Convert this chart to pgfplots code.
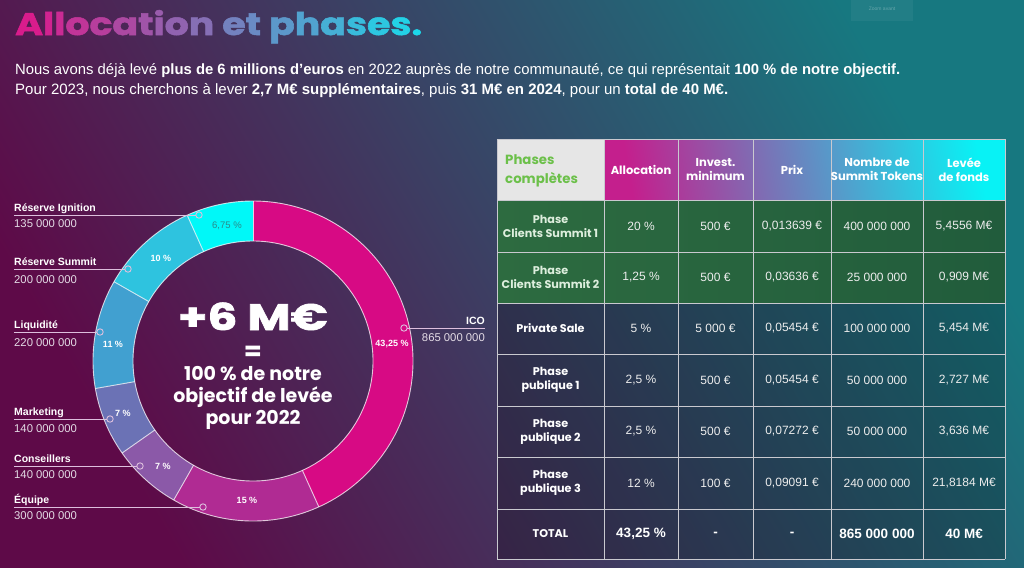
\documentclass[border=0pt]{standalone}
\usepackage{pgfplots}
\pgfplotsset{compat=1.18}
\usepackage{pgfplotstable}
\usepackage{fontspec}
\setmainfont{Liberation Sans}
\newfontfamily\pop{Poppins}
\newfontfamily\popheavy{Poppins}[BoldFeatures={FakeBold=1.6}]
\usetikzlibrary{fadings}

\definecolor{c0}{HTML}{D70A84}
\definecolor{c1}{HTML}{B02B93}
\definecolor{c2}{HTML}{8B59A8}
\definecolor{c3}{HTML}{6B72B5}
\definecolor{c4}{HTML}{41A0D0}
\definecolor{c5}{HTML}{2EC3DF}
\definecolor{c6}{HTML}{00F8F8}
\definecolor{bgT}{HTML}{177880}
\definecolor{bgM}{HTML}{43285A}
\definecolor{bgB}{HTML}{5E0A48}
\definecolor{leader}{HTML}{DDBFDD}
\definecolor{gridc}{HTML}{C9C9CF}
\definecolor{gr1}{HTML}{2D6B40}
\definecolor{gr2}{HTML}{215C3C}
\definecolor{phg}{HTML}{6CC04A}
\definecolor{hdM}{HTML}{C41F8D}
\definecolor{hdP}{HTML}{5C8ECC}
\definecolor{hdC}{HTML}{08F2F5}
\definecolor{tM}{HTML}{D91C8C}
\definecolor{tC}{HTML}{1CD8EA}
\definecolor{valgray}{HTML}{E4DCE6}
\definecolor{cellw}{HTML}{EDEDED}
\definecolor{tealtxt}{HTML}{2A8A8A}
\definecolor{hdgray}{HTML}{E6E6E6}
\definecolor{mint}{HTML}{DDEEDD}

\pgfplotstableread{
value
43.25
15
7
7
11
10
6.75
}\alloc

\tikzset{ringline/.style={draw=white, draw opacity=0.75, line width=0.9pt},
  leadline/.style={draw=leader, line width=1pt},
  nm/.style={anchor=base west, font=\bfseries\fontsize{10.5}{12}\selectfont, text=white, inner sep=0pt},
  vl/.style={anchor=base west, font=\fontsize{11.3}{12}\selectfont, text=valgray, inner sep=0pt},
  pc/.style={font=\bfseries\fontsize{9}{10}\selectfont, text=white, inner sep=0pt},
  hdr/.style={align=center, font=\pop\bfseries\fontsize{11.5}{13.5}\selectfont, text=white, inner sep=0pt},
  rl/.style={align=center, font=\pop\bfseries\fontsize{11.2}{14}\selectfont, text=white, inner sep=0pt},
  cv/.style={font=\fontsize{12}{14}\selectfont, text=cellw, inner sep=0pt},
  tv/.style={font=\bfseries\fontsize{13.5}{14}\selectfont, text=white, inner sep=0pt}}

\newcommand\slice[3]{%
  \pgfmathsetmacro\sa{90-3.6*(#1)}%
  \pgfmathsetmacro\sb{90-3.6*((#1)+(#2))}%
  \edef\temp{\noexpand\fill[#3] (axis cs:253,361) ++(\sa:160pt) arc[start angle=\sa, end angle=\sb, radius=160pt] -- ++(\sb:-40pt) arc[start angle=\sb, end angle=\sa, radius=120pt] -- cycle;}%
  \temp
}
\newcommand\sep[1]{%
  \pgfmathsetmacro\sb{90-3.6*(#1)}%
  \edef\temp{\noexpand\draw[ringline] (axis cs:253,361) ++(\sb:120pt) -- ++(\sb:40pt);}%
  \temp
}
\newcommand\tl[2]{\textcolor{tC!#1!tM}{#2}}

\begin{document}
\begin{tikzpicture}
\useasboundingbox (0pt,0pt) rectangle (1024pt,-567pt);
\shade[top color=bgT, middle color=bgM, bottom color=bgB, shading angle=-60] (0pt,0pt) rectangle (1024pt,-567pt);
\begin{axis}[at={(0pt,0pt)}, anchor=north west, scale only axis, width=1024pt, height=567pt,
  xmin=0, xmax=1024, ymin=0, ymax=567, y dir=reverse, hide axis, clip=false]

% zoom button
\fill[white, opacity=0.05] (axis cs:851,0) rectangle (axis cs:913,21);
\node[font=\fontsize{5}{6}\selectfont, text=white, text opacity=0.3] at (axis cs:882,9) {Zoom avant};

% title
\node[anchor=base west, inner sep=0pt] at (axis cs:15,35) {\resizebox{407pt}{25pt}{\popheavy\bfseries\fontsize{33}{36}\selectfont
\tl{0}{A}\tl{4}{l}\tl{8}{l}\tl{13}{o}\tl{18}{c}\tl{24}{a}\tl{30}{t}\tl{34}{i}\tl{38}{o}\tl{44}{n} \tl{54}{e}\tl{59}{t} \tl{66}{p}\tl{72}{h}\tl{78}{a}\tl{85}{s}\tl{91}{e}\tl{96}{s}\tl{100}{.}}};

% subtitle
\node[anchor=base west, inner sep=0pt, text=white] at (axis cs:15,74) {\resizebox{885pt}{!}{\fontsize{15.4}{18}\selectfont Nous avons déjà levé \textbf{plus de 6 millions d’euros} en 2022 auprès de notre communauté, ce qui représentait \textbf{100 \% de notre objectif.}}};
\node[anchor=base west, inner sep=0pt, text=white] at (axis cs:15,94) {\resizebox{713pt}{!}{\fontsize{15.4}{18}\selectfont Pour 2023, nous cherchons à lever \textbf{2,7 M€ supplémentaires}, puis \textbf{31 M€ en 2024}, pour un \textbf{total de 40 M€.}}};

% donut
\def\cum{0}
\pgfplotsforeachungrouped \i in {0,...,6}{%
  \pgfplotstablegetelem{\i}{value}\of\alloc
  \let\v\pgfplotsretval
  \slice{\cum}{\v}{c\i}%
  \pgfmathsetmacro\cum{\cum+\v}%
}
\def\cum{0}
\pgfplotsforeachungrouped \i in {0,...,6}{%
  \pgfplotstablegetelem{\i}{value}\of\alloc
  \let\v\pgfplotsretval
  \pgfmathsetmacro\cum{\cum+\v}%
  \sep{\cum}%
}
\draw[ringline] (axis cs:253,361) circle[radius=160pt];
\draw[ringline] (axis cs:253,361) circle[radius=120pt];

% percentages
\node[pc] at (axis cs:392,344) {43,25 \%};
\node[pc] at (axis cs:247,500) {15 \%};
\node[pc] at (axis cs:163,466) {7 \%};
\node[pc] at (axis cs:123,413) {7 \%};
\node[pc] at (axis cs:113,344) {11 \%};
\node[pc] at (axis cs:161,258) {10 \%};
\node[pc, text=tealtxt, font=\fontsize{9.5}{10}\selectfont] at (axis cs:227,226) {6,75 \%};

% leader lines
\draw[leadline] (axis cs:14,215) -- (axis cs:196,215);
\draw[leadline] (axis cs:14,269) -- (axis cs:125,269);
\draw[leadline] (axis cs:14,332) -- (axis cs:97,332);
\draw[leadline] (axis cs:14,419) -- (axis cs:107,419);
\draw[leadline] (axis cs:14,466) -- (axis cs:137,466);
\draw[leadline] (axis cs:14,507) -- (axis cs:200,507);
\draw[leadline] (axis cs:407,328) -- (axis cs:485,328);
\addplot[only marks, mark=o, mark size=3.2pt, mark options={draw=leader, line width=0.9pt}]
  coordinates {(199,215) (128,269) (100,332) (110,419) (140,466) (203,507) (404,328)};

% labels
\node[nm] at (axis cs:14,211.5) {Réserve Ignition};
\node[vl] at (axis cs:14,227) {135 000 000};
\node[nm] at (axis cs:14,265.5) {Réserve Summit};
\node[vl] at (axis cs:14,283) {200 000 000};
\node[nm] at (axis cs:14,328.5) {Liquidité};
\node[vl] at (axis cs:14,346) {220 000 000};
\node[nm] at (axis cs:14,415.5) {Marketing};
\node[vl] at (axis cs:14,432) {140 000 000};
\node[nm] at (axis cs:14,462.5) {Conseillers};
\node[vl] at (axis cs:14,478) {140 000 000};
\node[nm] at (axis cs:14,503.5) {Équipe};
\node[vl] at (axis cs:14,519) {300 000 000};
\node[nm, anchor=base east] at (axis cs:485,324.5) {ICO};
\node[vl, anchor=base east] at (axis cs:485,341) {865 000 000};

% center text
\node[anchor=base, inner sep=0pt, text=white] at (axis cs:253,330) {\resizebox{150pt}{27.5pt}{\popheavy\bfseries\fontsize{42}{44}\selectfont +6 M€}};
\node[anchor=base, inner sep=0pt, text=white, font=\pop\bfseries\fontsize{26}{28}\selectfont] at (axis cs:253,360) {=};
\node[anchor=base, inner sep=0pt, text=white, font=\pop\bfseries\fontsize{19}{22}\selectfont] at (axis cs:253,380) {100 \% de notre};
\node[anchor=base, inner sep=0pt, text=white, font=\pop\bfseries\fontsize{19}{22}\selectfont] at (axis cs:253,402) {objectif de levée};
\node[anchor=base, inner sep=0pt, text=white, font=\pop\bfseries\fontsize{19}{22}\selectfont] at (axis cs:253,424) {pour 2022};

% table backgrounds
\fill[hdgray] (axis cs:497,139) rectangle (axis cs:604,200);
\shade[left color=hdM, middle color=hdP, right color=hdC, shading angle=100] (axis cs:604,139) rectangle (axis cs:1005,200);
\shade[left color=gr1, right color=gr2] (axis cs:497,200) rectangle (axis cs:1005,303);
\fill[black, opacity=0.22] (axis cs:497,303) rectangle (axis cs:1005,559);
% grid
\pgfplotsinvokeforeach{497,604,678,753,831,923,1005}{\draw[gridc, line width=1pt] (axis cs:#1,139) -- (axis cs:#1,559);}
\pgfplotsinvokeforeach{139,200,252,303,354,406,457,509,559}{\draw[gridc, line width=1pt] (axis cs:497,#1) -- (axis cs:1005,#1);}

% header text
\node[anchor=west, align=left, inner sep=0pt, text=phg, font=\pop\bfseries\fontsize{13.3}{19}\selectfont] at (axis cs:505,171) {Phases\\complètes};
\node[hdr] at (axis cs:641,169.5) {Allocation};
\node[hdr] at (axis cs:715.5,169.5) {Invest.\\minimum};
\node[hdr] at (axis cs:792,169.5) {Prix};
\node[hdr] at (axis cs:877,169.5) {Nombre de\\Summit Tokens};
\node[hdr] at (axis cs:964,169.5) {Levée\\de fonds};

% rows
\node[rl, text=mint] at (axis cs:550.5,226) {Phase\\Clients Summit 1};
\node[cv] at (axis cs:641,226) {20 \%};
\node[cv] at (axis cs:715.5,226) {500 €};
\node[cv] at (axis cs:792,226) {0,013639 €};
\node[cv] at (axis cs:877,226) {400 000 000};
\node[cv] at (axis cs:964,226) {5,4556 M€};

\node[rl, text=mint] at (axis cs:550.5,277.5) {Phase\\Clients Summit 2};
\node[cv] at (axis cs:641,277.5) {1,25 \%};
\node[cv] at (axis cs:715.5,277.5) {500 €};
\node[cv] at (axis cs:792,277.5) {0,03636 €};
\node[cv] at (axis cs:877,277.5) {25 000 000};
\node[cv] at (axis cs:964,277.5) {0,909 M€};

\node[rl] at (axis cs:550.5,328.5) {Private Sale};
\node[cv] at (axis cs:641,328.5) {5 \%};
\node[cv] at (axis cs:715.5,328.5) {5 000 €};
\node[cv] at (axis cs:792,328.5) {0,05454 €};
\node[cv] at (axis cs:877,328.5) {100 000 000};
\node[cv] at (axis cs:964,328.5) {5,454 M€};

\node[rl] at (axis cs:550.5,380) {Phase\\publique 1};
\node[cv] at (axis cs:641,380) {2,5 \%};
\node[cv] at (axis cs:715.5,380) {500 €};
\node[cv] at (axis cs:792,380) {0,05454 €};
\node[cv] at (axis cs:877,380) {50 000 000};
\node[cv] at (axis cs:964,380) {2,727 M€};

\node[rl] at (axis cs:550.5,431.5) {Phase\\publique 2};
\node[cv] at (axis cs:641,431.5) {2,5 \%};
\node[cv] at (axis cs:715.5,431.5) {500 €};
\node[cv] at (axis cs:792,431.5) {0,07272 €};
\node[cv] at (axis cs:877,431.5) {50 000 000};
\node[cv] at (axis cs:964,431.5) {3,636 M€};

\node[rl] at (axis cs:550.5,483) {Phase\\publique 3};
\node[cv] at (axis cs:641,483) {12 \%};
\node[cv] at (axis cs:715.5,483) {100 €};
\node[cv] at (axis cs:792,483) {0,09091 €};
\node[cv] at (axis cs:877,483) {240 000 000};
\node[cv] at (axis cs:964,483) {21,8184 M€};

\node[rl] at (axis cs:550.5,534) {TOTAL};
\node[tv] at (axis cs:641,534) {43,25 \%};
\node[tv] at (axis cs:715.5,534) {-};
\node[tv] at (axis cs:792,534) {-};
\node[tv] at (axis cs:877,534) {865 000 000};
\node[tv] at (axis cs:964,534) {40 M€};
\end{axis}
\end{tikzpicture}
\end{document}
